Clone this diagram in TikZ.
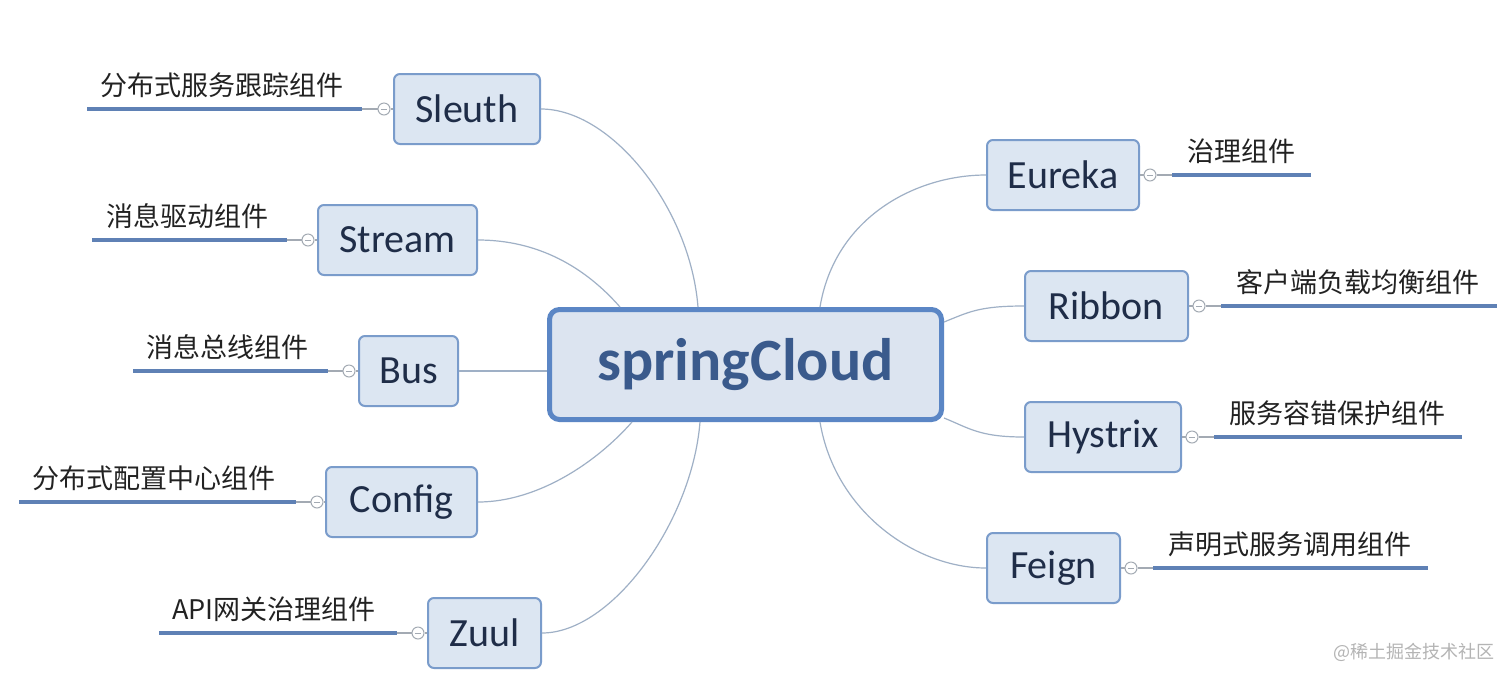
\documentclass[tikz,border=0pt]{standalone}
\usepackage{fontspec}
\setmainfont{Carlito}
\newfontfamily\cjk{Noto Sans CJK SC}
\usetikzlibrary{calc}
\definecolor{boxfill}{HTML}{DCE6F2}
\definecolor{boxline}{HTML}{7A9CCB}
\definecolor{hubfill}{HTML}{DCE4F0}
\definecolor{hubline}{HTML}{5B86C5}
\definecolor{hubtext}{HTML}{3A5A8C}
\definecolor{childtext}{HTML}{1F2D48}
\definecolor{connline}{HTML}{9FB0C6}
\definecolor{toggray}{HTML}{A3AAB3}
\definecolor{barblue}{HTML}{5F81B5}
\definecolor{labtext}{HTML}{222222}
\definecolor{wmgray}{HTML}{B4B4B4}
\begin{document}
\begin{tikzpicture}[x=0.5pt,y=-0.5pt,
  child/.style={draw=boxline, line width=1pt, fill=boxfill, rounded corners=3pt,
    minimum height=35pt, inner sep=0pt, font=\fontsize{20}{24}\selectfont, text=childtext},
  hub/.style={draw=hubline, line width=2.5pt, fill=hubfill, rounded corners=5pt,
    minimum width=196pt, minimum height=55pt, inner sep=0pt,
    font=\bfseries\fontsize{30}{36}\selectfont, text=hubtext},
  conn/.style={draw=connline, line width=0.6pt},
  tog/.style={circle, draw=toggray, line width=0.5pt, fill=white, minimum size=6pt, inner sep=0pt,
    path picture={\draw[toggray, line width=0.5pt]
      ([xshift=1.4pt]path picture bounding box.west) -- ([xshift=-1.4pt]path picture bounding box.east);}},
  stem/.style={draw=toggray, line width=0.6pt},
  bar/.style={draw=barblue, line width=1.8pt},
  lab/.style={anchor=base west, inner sep=0pt, font=\cjk\fontsize{13.5}{16}\selectfont, text=labtext}]
\useasboundingbox[fill=white] (0,0) rectangle (1512,682);

% centre
\node[hub] (c) at (745.5,364.5) {springCloud};

% ---------- left side ----------
\node[child, minimum width=73pt] (sleuth) at (467,109) {Sleuth};
\node[tog] (tsleuth) at (384,109) {};
\coordinate (sleuthA) at (87,109);
\coordinate (sleuthB) at (362,109);
\node[lab] (lsleuth) at (100,95) {分布式服务跟踪组件};

\node[child, minimum width=79.5pt] (stream) at (397.5,240) {Stream};
\node[tog] (tstream) at (308,240) {};
\coordinate (streamA) at (92,240);
\coordinate (streamB) at (287,240);
\node[lab] (lstream) at (106,226) {消息驱动组件};

\node[child, minimum width=49.5pt] (bus) at (408.5,371) {Bus};
\node[tog] (tbus) at (349,371) {};
\coordinate (busA) at (133,371);
\coordinate (busB) at (328,371);
\node[lab] (lbus) at (146,357) {消息总线组件};

\node[child, minimum width=75.5pt] (config) at (401.5,502) {Config};
\node[tog] (tconfig) at (317,502) {};
\coordinate (configA) at (19,502);
\coordinate (configB) at (296,502);
\node[lab] (lconfig) at (32,488) {分布式配置中心组件};

\node[child, minimum width=56.5pt] (zuul) at (484.5,633) {Zuul};
\node[tog] (tzuul) at (418,633) {};
\coordinate (zuulA) at (159,633);
\coordinate (zuulB) at (397,633);
\node[lab] (lzuul) at (172,619) {API网关治理组件};

% ---------- right side ----------
\node[child, minimum width=76pt] (eureka) at (1063,175) {Eureka};
\node[tog] (teureka) at (1150,175) {};
\coordinate (eurekaA) at (1172,175);
\coordinate (eurekaB) at (1311,175);
\node[lab] (leureka) at (1187,161) {治理组件};

\node[child, minimum width=81.5pt] (ribbon) at (1106.5,306) {Ribbon};
\node[tog] (tribbon) at (1199,306) {};
\coordinate (ribbonA) at (1221,306);
\coordinate (ribbonB) at (1497,306);
\node[lab] (lribbon) at (1236,292) {客户端负载均衡组件};

\node[child, minimum width=78pt] (hystrix) at (1103,437) {Hystrix};
\node[tog] (thystrix) at (1192,437) {};
\coordinate (hystrixA) at (1214,437);
\coordinate (hystrixB) at (1462,437);
\node[lab] (lhystrix) at (1229,423) {服务容错保护组件};

\node[child, minimum width=66.5pt] (feign) at (1053.5,568) {Feign};
\node[tog] (tfeign) at (1131,568) {};
\coordinate (feignA) at (1153,568);
\coordinate (feignB) at (1428,568);
\node[lab] (lfeign) at (1168,554) {声明式服务调用组件};

% stems and bars
\foreach \n in {sleuth,stream,bus,config,zuul}{
  \draw[stem] (\n.west) -- (t\n);
  \draw[stem] (t\n) -- (\n B);
  \draw[bar] (\n A) -- (\n B);
}
\foreach \n in {eureka,ribbon,hystrix,feign}{
  \draw[stem] (\n.east) -- (t\n);
  \draw[stem] (t\n) -- (\n A);
  \draw[bar] (\n A) -- (\n B);
}

% connectors from the centre
\draw[conn] (sleuth.east) .. controls +(70,0) and +(-8,-100) .. ($(c.north west)+(151,0)$);
\draw[conn] (stream.east) .. controls +(60,0) and +(-35,-40) .. ($(c.north west)+(73,0)$);
\draw[conn] (bus.east) -- (bus.east -| c.west);
\draw[conn] (config.east) .. controls +(60,0) and +(-35,40) .. ($(c.south west)+(85,0)$);
\draw[conn] (zuul.east) .. controls +(70,0) and +(-8,100) .. ($(c.south west)+(153,0)$);
\draw[conn] (eureka.west) .. controls +(-70,0) and +(15,-90) .. ($(c.north east)+(-124,0)$);
\draw[conn] (ribbon.west) .. controls +(-45,0) and +(25,-10) .. ($(c.north east)+(0,15)$);
\draw[conn] (hystrix.west) .. controls +(-45,0) and +(25,10) .. ($(c.south east)+(0,-4)$);
\draw[conn] (feign.west) .. controls +(-70,0) and +(15,90) .. ($(c.south east)+(-124,0)$);

% watermark
\node[anchor=west, inner sep=0pt, font=\cjk\fontsize{9}{11}\selectfont, text=wmgray] (wm) at (1333,652) {@稀土掘金技术社区};
\end{tikzpicture}
\end{document}
